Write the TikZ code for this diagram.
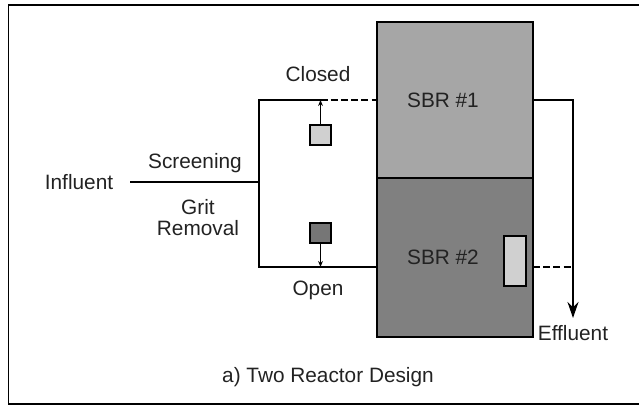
\documentclass[tikz,border=0pt]{standalone}
\usepackage{fontspec}
\setmainfont{Liberation Sans}
\usepackage{xcolor}
\usetikzlibrary{arrows.meta,positioning,calc}
\definecolor{tankA}{HTML}{A6A6A6}
\definecolor{tankB}{HTML}{808080}
\definecolor{lightv}{HTML}{D0D0D0}
\definecolor{darkv}{HTML}{767676}
\definecolor{ink}{HTML}{222222}
\tikzset{
  tank/.style={draw, line width=1pt, minimum width=78pt, inner sep=0pt},
  valvebox/.style={draw, line width=0.9pt, minimum width=10.5pt, minimum height=10pt, inner sep=0pt},
  lbl/.style={font=\fontsize{10.4}{10.5}\selectfont, text=ink, align=center},
  pipe/.style={line width=1pt},
  pipedash/.style={pipe, dash pattern=on 3.5pt off 1.6pt},
  stem/.style={line width=0.5pt, -{Stealth[length=3pt, width=2.4pt]}},
  outarrow/.style={pipe, -{Stealth[length=8pt, width=5.5pt]}}
}

\begin{document}
\begin{tikzpicture}[x=0.5pt, y=-0.5pt]
\useasboundingbox (0,0) rectangle (639,406);
\draw[line width=0.75pt] (8.5,5) rectangle (650,404);

% reactors
\node[tank, fill=tankA, minimum height=78pt, label={[lbl, xshift=-6pt]center:SBR \#1}] (sbr1) at (455,100) {};
\node[tank, fill=tankB, minimum height=79.5pt, label={[lbl, xshift=-6pt]center:SBR \#2}] (sbr2) at (455,257.5) {};
\node[valvebox, fill=lightv, minimum width=11pt, minimum height=25pt] (dec) at (515,261) {};

% valves
\node[valvebox, fill=lightv] (v1) at (320.5,135) {};
\node[valvebox, fill=darkv] (v2) at (320.5,233) {};
\coordinate (t1) at (320.5,100);
\coordinate (b1) at (320.5,267);
\coordinate (j) at (259,182);
\coordinate (d2) at (533,267);

% labels
\node[lbl] (infl) at (79,182) {Influent};
\node[lbl] (scr) at (195,163) {Screening};
\node[lbl] (grit) at (198,218) {Grit\\Removal};
\node[lbl] (cls) at (318,74) {Closed};
\node[lbl] (opn) at (318,290) {Open};
\node[lbl, anchor=north] (eff) at (573,318) {Effluent};
\node[lbl] (cap) at (328,377) {a) Two Reactor Design};

% piping
\draw[pipe] ([xshift=5pt]infl.east) -- (j);
\draw[pipe] (j) |- (t1);
\draw[pipedash] (t1) -- (sbr1.west);
\draw[pipe] (j) |- (b1) -- (b1 -| sbr2.west);
\draw[stem] (v1.north) -- (t1);
\draw[stem] (v2.south) -- (b1);
\draw[outarrow] (sbr1.east) -| (eff.north);
\draw[pipedash] (d2) -- (d2 -| eff.north);
\end{tikzpicture}
\end{document}
